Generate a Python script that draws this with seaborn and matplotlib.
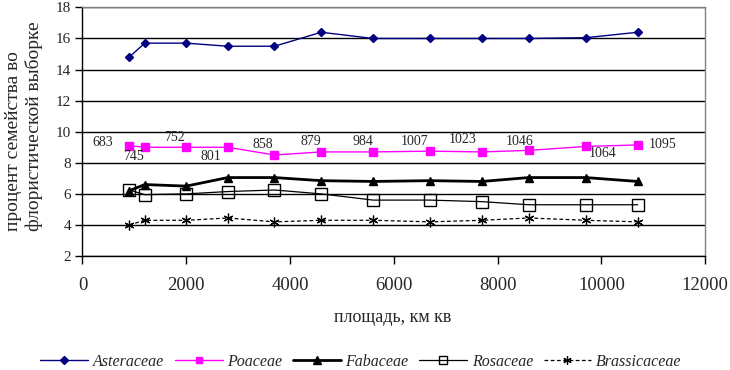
import matplotlib
matplotlib.use("Agg")
import matplotlib.pyplot as plt
import numpy as np
import pandas as pd
import seaborn as sns

# площадь, км кв
area = [900, 1200, 2000, 2800, 3700, 4600, 5600, 6700, 7700, 8600, 9700, 10700]

asteraceae = [14.8, 15.7, 15.7, 15.5, 15.5, 16.4, 16.0, 16.0, 16.0, 16.0, 16.05, 16.4]
poaceae = [9.1, 9.0, 9.0, 9.0, 8.5, 8.7, 8.7, 8.75, 8.7, 8.8, 9.05, 9.15]
fabaceae = [6.2, 6.6, 6.5, 7.05, 7.05, 6.85, 6.8, 6.85, 6.8, 7.05, 7.05, 6.8]
rosaceae = [6.25, 5.95, 6.0, 6.15, 6.25, 6.0, 5.6, 5.6, 5.5, 5.3, 5.3, 5.3]
brassicaceae = [4.0, 4.3, 4.3, 4.45, 4.2, 4.3, 4.3, 4.2, 4.3, 4.45, 4.3, 4.2]

# число видов во флоре (подписи к Poaceae)
species = [683, 745, 752, 801, 858, 879, 984, 1007, 1023, 1046, 1064, 1095]
# смещения подписей, пиксели
label_dx = [-27, -11, -12, -17, -12, -10, -10, -16, -19, -9, 17, 25]
label_dy = [3, -9, 10, -9, 11, 10, 10, 10, 12, 9, -7, 0]

series = {
    "Asteraceae": asteraceae,
    "Poaceae": poaceae,
    "Fabaceae": fabaceae,
    "Rosaceae": rosaceae,
    "Brassicaceae": brassicaceae,
}

styles = {
    "Asteraceae": dict(color="#000080", lw=1.0, marker="D", ms=4.5, mfc="#000080", mec="#000080", ls="-"),
    "Poaceae": dict(color="#ff00ff", lw=1.0, marker="s", ms=5.5, mfc="#ff00ff", mec="#ff00ff", ls="-"),
    "Fabaceae": dict(color="black", lw=2.0, marker="^", ms=6, mfc="black", mec="black", ls="-"),
    "Rosaceae": dict(color="black", lw=0.9, marker="s", ms=8, mfc="none", mec="black", mew=1.0, ls="-"),
    "Brassicaceae": dict(color="black", lw=0.9, marker=(6, 2, 0), ms=7, mec="black", mew=0.9, ls=(0, (3, 2))),
}

sns.set_style("white")
plt.rcParams["font.family"] = ["Liberation Serif", "DejaVu Serif"]

fig = plt.figure(figsize=(7.3, 3.7), dpi=100)
ax = fig.add_axes([0.113, 0.308, 0.853, 0.672])

for name, vals in series.items():
    df = pd.DataFrame({"area": area, "pct": vals})
    st = styles[name]
    sns.lineplot(data=df, x="area", y="pct", ax=ax, label=name,
                 color=st["color"], linewidth=st["lw"], linestyle=st["ls"],
                 marker=st["marker"], markersize=st["ms"],
                 markerfacecolor=st.get("mfc", "black"),
                 markeredgecolor=st["mec"], markeredgewidth=st.get("mew", 1.0),
                 zorder=3)

for x, y, n, dx, dy in zip(area, poaceae, species, label_dx, label_dy):
    ax.annotate(str(n), (x, y), xytext=(dx, dy), textcoords="offset pixels",
                ha="center", va="center", fontsize=10, zorder=4)

ax.set_xlim(0, 12000)
ax.set_ylim(2, 18)
ax.set_xticks(np.arange(0, 12001, 2000))
ax.set_yticks(np.arange(2, 19, 2))
ax.yaxis.grid(True, color="black", lw=1.0)
ax.set_axisbelow(True)

for side in ["top", "right"]:
    ax.spines[side].set_color("#808080")
    ax.spines[side].set_linewidth(1.0)
for side in ["left", "bottom"]:
    ax.spines[side].set_color("black")
    ax.spines[side].set_linewidth(1.0)

ax.tick_params(axis="x", direction="out", length=6, width=1, color="black",
               labelsize=13.5, pad=9, bottom=True)
ax.tick_params(axis="y", direction="out", length=5, width=1, color="black",
               labelsize=11, pad=3, left=True)

ax.set_xlabel("")
ax.set_ylabel("")
fig.text(393 / 730, 1 - 318 / 370, "площадь, км кв", ha="center", va="center", fontsize=13)
fig.text(24 / 730, 1 - 126 / 370, "процент семейства во\nфлористической выборке",
         rotation=90, ha="center", va="center", multialignment="left",
         fontsize=14, linespacing=1.15)

ax.legend_.remove()
handles, labels = ax.get_legend_handles_labels()
leg = fig.legend(handles, labels, loc="center", bbox_to_anchor=(361 / 730, 1 - 362 / 370),
                 ncol=5, frameon=False, handlelength=3.0, handletextpad=0.3,
                 columnspacing=0.65, prop={"style": "italic", "size": 11.5})
for h, ms in zip(leg.legend_handles, [4.5, 5, 5.5, 6, 6]):
    h.set_markersize(ms)

fig.savefig("out.png", dpi=100)
